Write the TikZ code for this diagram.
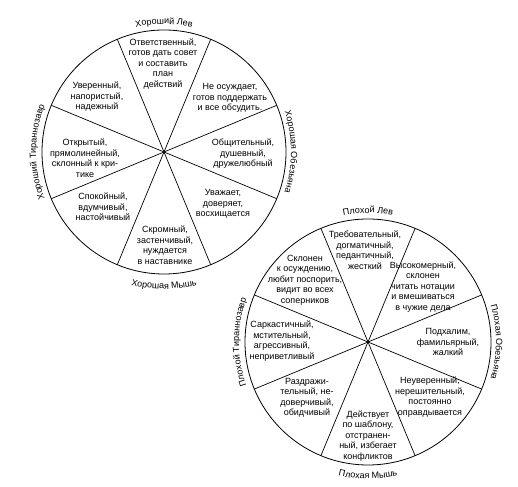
\documentclass[tikz,border=0pt]{standalone}
\usepackage{fontspec}
\setmainfont{Liberation Sans}
\usetikzlibrary{decorations.text,calc}
\newcommand\lblf{\fontsize{9}{10}\selectfont}
\begin{document}
\begin{tikzpicture}[x=1pt,y=1pt,
  txt/.style={font=\fontsize{9}{10.5}\selectfont, align=center, inner sep=0pt},
  wheel/.style={line width=0.8pt},
  spoke/.style={line width=0.7pt},
  toplbl/.style={decorate, decoration={text along path, text align=center, text={|\lblf|#1}}}]
\useasboundingbox (0,0) rectangle (518,486);
% ---------- circle 1 ----------
\coordinate (c1) at (164,334);
\draw[wheel] (c1) circle[radius=122];
\foreach \a in {22.5,67.5,...,337.5} \draw[spoke] (c1) -- ++(\a:122);
\node[txt] (g1) at (163,422) {Ответственный,\\готов дать совет\\и составить\\план\\действий};
\node[txt] (g2) at (230,388) {Не осуждает,\\готов поддержать\\и все обсудить.};
\node[txt] (g3) at (243,332) {Общительный,\\душевный,\\дружелюбный};
\node[txt] (g4) at (223,282) {Уважает,\\доверяет,\\восхищается};
\node[txt] (g5) at (165,241) {Скромный,\\застенчивый,\\нуждается\\в наставнике};
\node[txt] (g6) at (103,279) {Спокойный,\\вдумчивый,\\настойчивый};
\node[txt] (g7) at (85,328) {Открытый,\\прямолинейный,\\склонный к кри-\\тике};
\node[txt] (g8) at (97,389) {Уверенный,\\напористый,\\надежный};
\path[toplbl={Хороший Лев}] ($(c1)+(125:128)$) arc[start angle=125, end angle=55, radius=128];
\path[toplbl={Хорошая Обезьяна}] ($(c1)+(40:127)$) arc[start angle=40, end angle=-40, radius=127];
\path[toplbl={Хороший Тираннозавр}] ($(c1)+(220:128)$) arc[start angle=220, end angle=140, radius=128];
\path[toplbl={Хорошая Мышь}] ($(c1)+(230:137)$) arc[start angle=230, end angle=310, radius=137];
% ---------- circle 2 ----------
\coordinate (c2) at (368,144);
\draw[wheel] (c2) circle[radius=123];
\foreach \a in {22.5,67.5,...,337.5} \draw[spoke] (c2) -- ++(\a:123);
\node[txt] (b1) at (365,236) {Требовательный,\\догматичный,\\педантичный,\\жесткий};
\node[txt] (b2) at (423,199) {Высокомерный,\\склонен\\читать нотации\\и вмешиваться\\в чужие дела};
\node[txt] (b3) at (448,144) {Подхалим,\\фамильярный,\\жалкий};
\node[txt] (b4) at (430,89) {Неуверенный,\\нерешительный,\\постоянно\\оправдывается};
\node[txt] (b5) at (368,50) {Действует\\по шаблону,\\отстранен-\\ный, избегает\\конфликтов};
\node[txt] (b6) at (307,88) {Раздражи-\\тельный, не-\\доверчивый,\\обидчивый};
\node[txt] (b7) at (282,145) {Саркастичный,\\мстительный,\\агрессивный,\\неприветливый};
\node[txt] (b8) at (305,206) {Склонен\\к осуждению,\\любит поспорить,\\видит во всех\\соперников};
\path[toplbl={Плохой Лев}] ($(c2)+(125:129)$) arc[start angle=125, end angle=55, radius=129];
\path[toplbl={Плохая Обезьяна}] ($(c2)+(40:128)$) arc[start angle=40, end angle=-40, radius=128];
\path[toplbl={Плохой Тираннозавр}] ($(c2)+(220:129)$) arc[start angle=220, end angle=140, radius=129];
\path[toplbl={Плохая Мышь}] ($(c2)+(230:137)$) arc[start angle=230, end angle=310, radius=137];
\end{tikzpicture}
\end{document}
